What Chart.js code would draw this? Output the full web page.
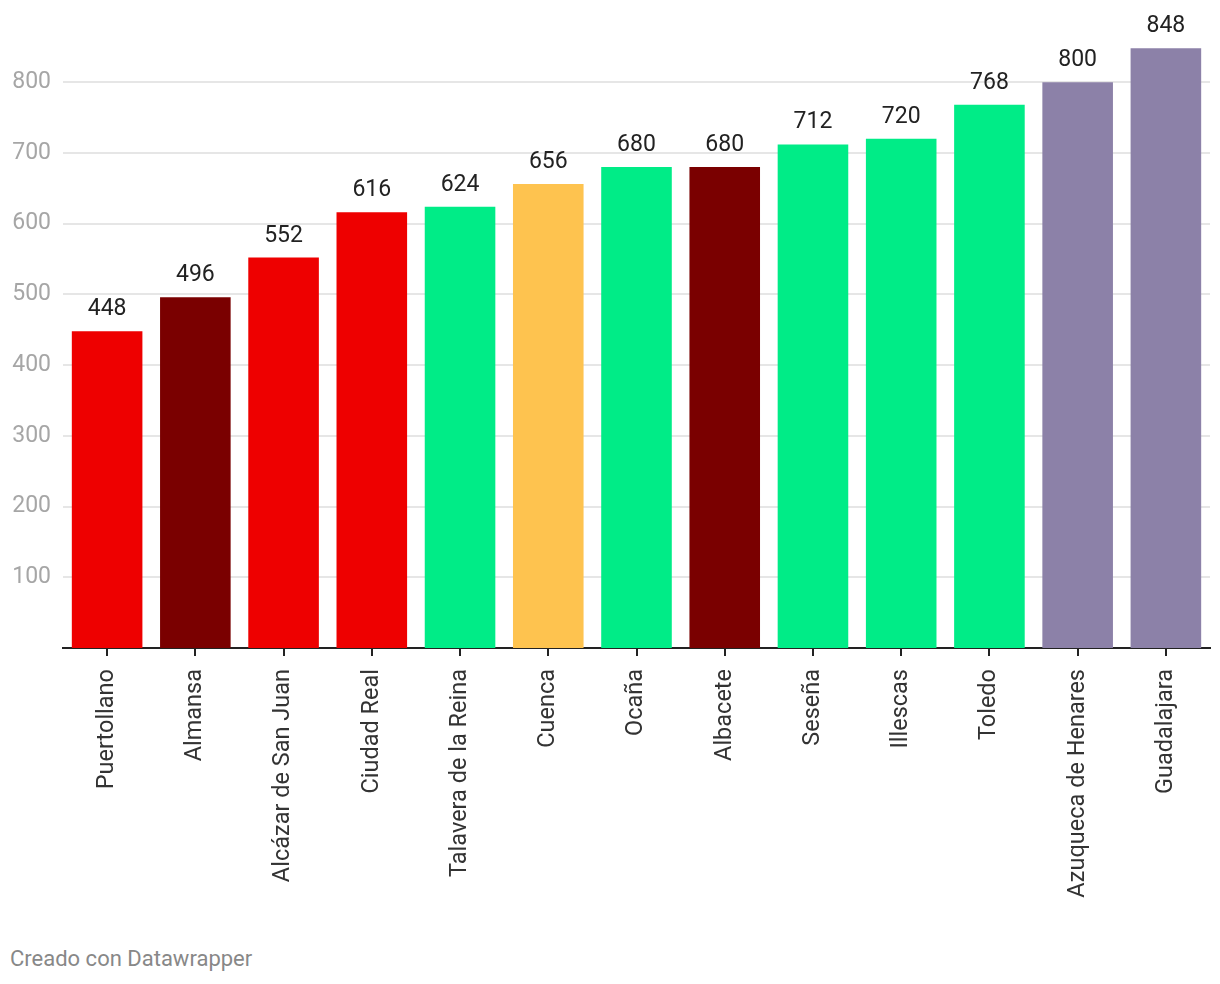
<!DOCTYPE html>
<html>
<head>
<meta charset="utf-8">
<script src="https://cdn.jsdelivr.net/npm/chart.js@4"></script>
<style>
  html, body { margin: 0; padding: 0; background: #fff; }
  #wrap { position: relative; width: 1220px; height: 940px; }
  #note { position: absolute; left: 10px; top: 946px; font: 22px Roboto, sans-serif; color: #888; }
</style>
</head>
<body>
<div id="wrap"><canvas id="barChart"></canvas></div>
<div id="note">Creado con Datawrapper</div>
<script>
var categories = ['Puertollano', 'Almansa', 'Alcázar de San Juan', 'Ciudad Real', 'Talavera de la Reina',
    'Cuenca', 'Ocaña', 'Albacete', 'Seseña', 'Illescas', 'Toledo', 'Azuqueca de Henares', 'Guadalajara'];
var values = [448, 496, 552, 616, 624, 656, 680, 680, 712, 720, 768, 800, 848];
var groups = ['a', 'b', 'a', 'a', 'c', 'd', 'c', 'b', 'c', 'c', 'c', 'e', 'e'];
var yTicks = [100, 200, 300, 400, 500, 600, 700, 800];

var groupColors = { a: '#EE0000', b: '#7A0000', c: '#00EC87', d: '#FEC34F', e: '#8C81A8' };

var valueLabels = {
    id: 'valueLabels',
    afterDatasetsDraw: function(chart) {
        var ctx = chart.ctx;
        var meta = chart.getDatasetMeta(0);
        ctx.save();
        ctx.font = '23px Roboto';
        ctx.fillStyle = '#222';
        ctx.textAlign = 'center';
        ctx.textBaseline = 'alphabetic';
        meta.data.forEach(function(bar, i) {
            ctx.fillText(values[i], bar.x, bar.y - 16);
        });
        ctx.restore();
    }
};

var ctx = document.getElementById('barChart').getContext('2d');
var barChart = new Chart(ctx, {
    type: 'bar',
    data: {
        labels: categories,
        datasets: [{
            data: values,
            backgroundColor: groups.map(function(g) { return groupColors[g]; }),
            categoryPercentage: 1,
            barPercentage: 0.8
        }]
    },
    options: {
        responsive: true,
        maintainAspectRatio: false,
        animation: false,
        layout: {
            padding: { top: 11, right: 10, left: 0, bottom: 0 }
        },
        plugins: {
            legend: { display: false },
            tooltip: { enabled: false }
        },
        scales: {
            x: {
                afterFit: function(scale) { scale.height = 292; },
                grid: {
                    offset: false,
                    drawOnChartArea: false,
                    drawTicks: true,
                    tickLength: 8,
                    color: '#222',
                    lineWidth: 2
                },
                border: { display: true, color: '#222', width: 2 },
                ticks: {
                    minRotation: 90,
                    maxRotation: 90,
                    autoSkip: false,
                    padding: 13,
                    color: '#333',
                    font: { family: 'Roboto', size: 23.5 }
                }
            },
            y: {
                min: 0,
                max: 900,
                afterFit: function(scale) { scale.width = 63; },
                afterBuildTicks: function(scale) {
                    scale.ticks = yTicks.map(function(v) { return { value: v }; });
                },
                border: { display: false },
                grid: {
                    drawTicks: true,
                    tickLength: 12,
                    tickColor: 'rgba(0,0,0,0)',
                    lineWidth: 2,
                    color: '#E6E6E6'
                },
                ticks: {
                    padding: 0,
                    color: '#A6A6A6',
                    font: { family: 'Roboto', size: 23, lineHeight: 1 }
                }
            }
        }
    },
    plugins: [valueLabels]
});
</script>
</body>
</html>
